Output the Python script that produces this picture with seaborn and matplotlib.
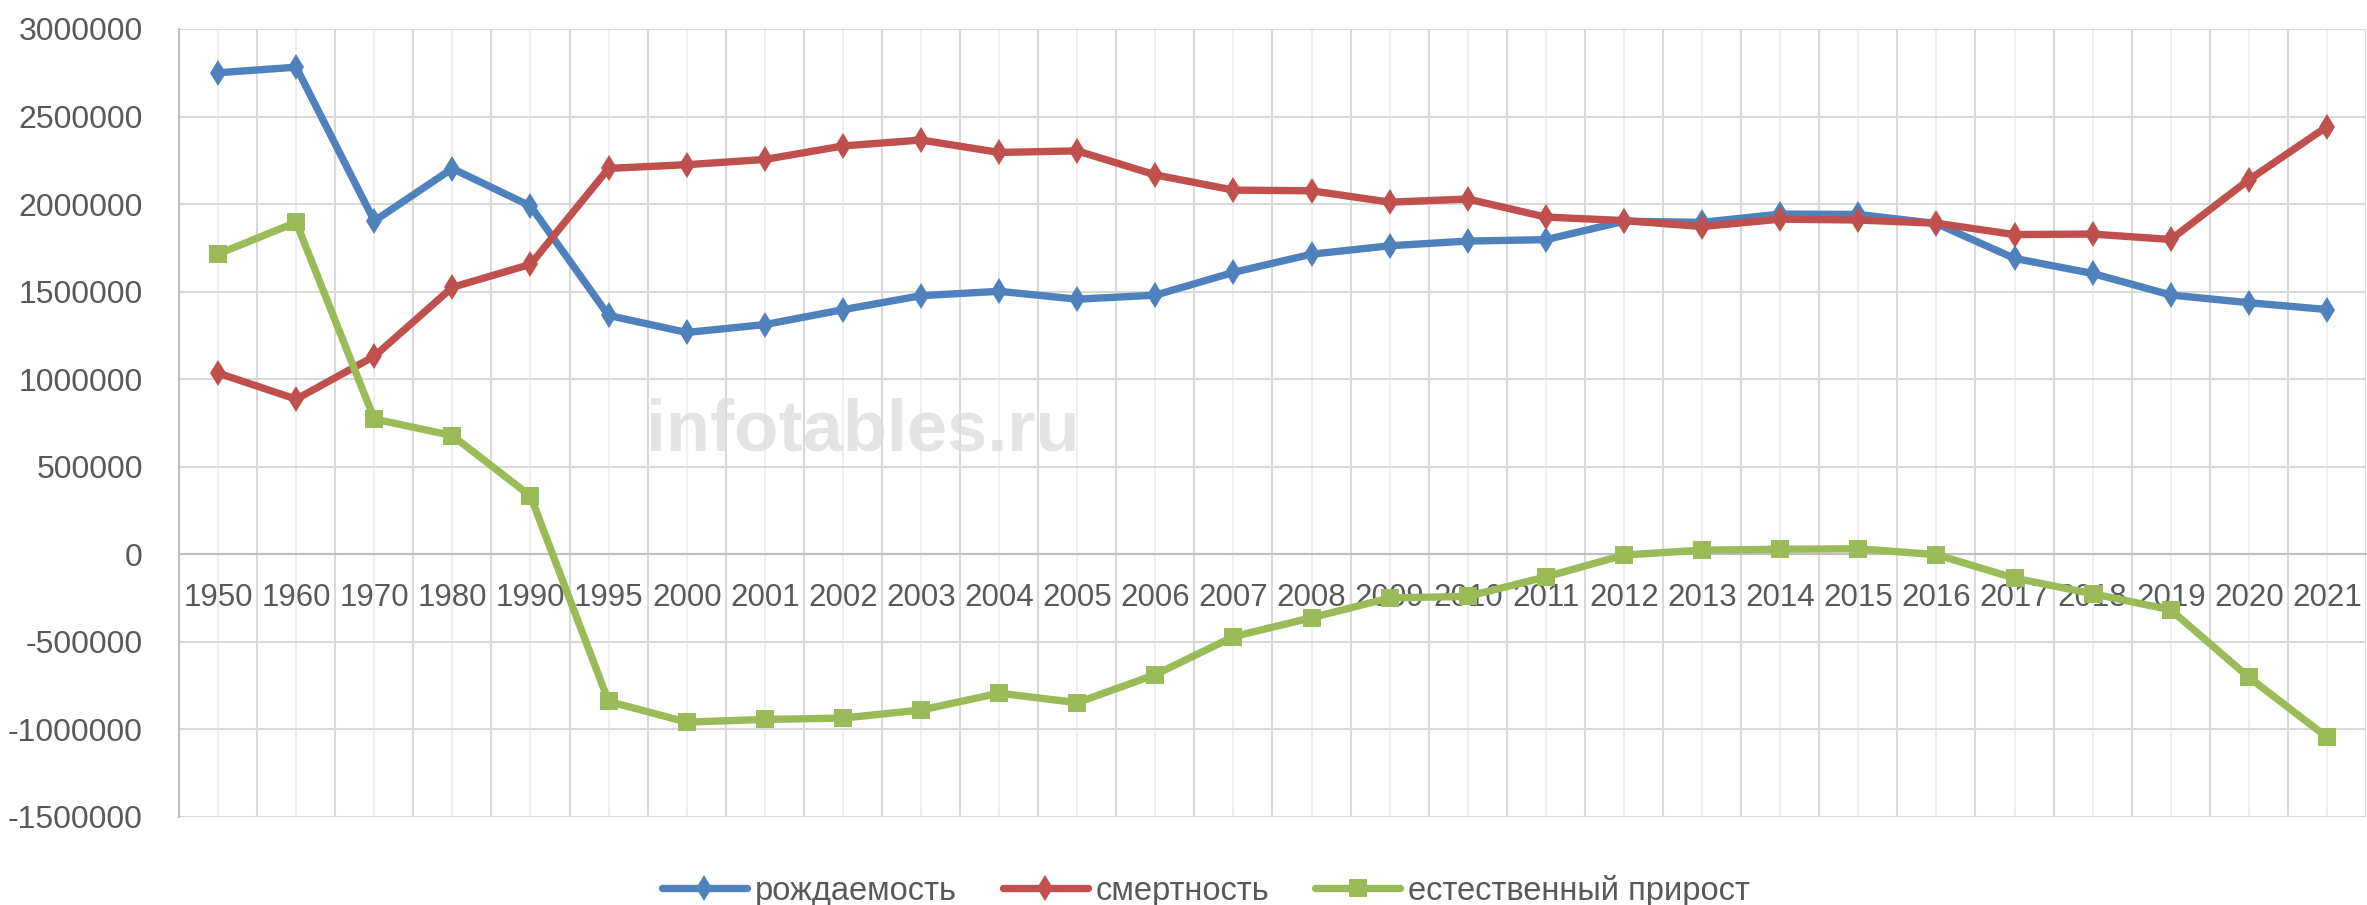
import numpy as np
import pandas as pd
import seaborn as sns
import matplotlib.pyplot as plt
from matplotlib.ticker import MultipleLocator, FuncFormatter

sns.set_theme(style="white")
plt.rcParams['font.family'] = ['Liberation Sans', 'DejaVu Sans']

# data
years = ['1950', '1960', '1970', '1980', '1990', '1995', '2000', '2001', '2002',
         '2003', '2004', '2005', '2006', '2007', '2008', '2009', '2010', '2011',
         '2012', '2013', '2014', '2015', '2016', '2017', '2018', '2019', '2020',
         '2021']
births = [2750000, 2782000, 1904000, 2203000, 1989000, 1364000, 1267000, 1312000,
          1397000, 1477000, 1502000, 1457000, 1480000, 1610000, 1714000, 1762000,
          1789000, 1797000, 1902000, 1896000, 1943000, 1941000, 1889000, 1690000,
          1604000, 1481000, 1437000, 1398000]
deaths = [1035000, 886000, 1131000, 1525000, 1656000, 2204000, 2225000, 2255000,
          2332000, 2366000, 2295000, 2304000, 2167000, 2080000, 2076000, 2011000,
          2029000, 1926000, 1906000, 1872000, 1914000, 1909000, 1891000, 1826000,
          1829000, 1798000, 2139000, 2442000]
increase = [b - d for b, d in zip(births, deaths)]

labels = ['рождаемость', 'смертность', 'естественный прирост']
colors = ['#4F81BD', '#C0504D', '#9BBB59']
markers = ['d', 'd', 's']
msizes = [13, 13, 13.5]
LW = 5.3
FS = 23

fig = plt.figure(figsize=(23.67, 9.05), dpi=100)
ax = fig.add_axes([179 / 2367, 1 - 817 / 905, 2187 / 2367, 788 / 905])

for vals, lab, col, mk, ms in zip([births, deaths, increase], labels, colors,
                                  markers, msizes):
    df = pd.DataFrame({'year': years, 'value': vals})
    sns.lineplot(data=df, x='year', y='value', ax=ax, sort=False, color=col,
                 linewidth=LW, marker=mk, markersize=ms, markeredgewidth=0,
                 label=lab, zorder=3)

# axes styling, excel-like
ax.set_xlim(-0.5, len(years) - 0.5)
ax.set_ylim(-1500000, 3000000)
ax.yaxis.set_major_locator(MultipleLocator(500000))
ax.yaxis.set_major_formatter(FuncFormatter(lambda v, p: f'{int(v)}'))
ax.set_xticks(range(len(years)))
ax.set_xticklabels(years)
ax.xaxis.set_minor_locator(MultipleLocator(1, offset=0.5))
ax.set_xlabel('')
ax.set_ylabel('')

ax.set_axisbelow(True)
ax.grid(axis='y', which='major', color='#D9D9D9', linewidth=1.5)
ax.grid(axis='x', which='major', color='#EFEFEF', linewidth=1.5)
ax.grid(axis='x', which='minor', color='#D9D9D9', linewidth=1.5)

for side in ['top', 'right']:
    ax.spines[side].set_visible(False)
ax.spines['bottom'].set_position(('data', 0))
ax.spines['bottom'].set_color('#BFBFBF')
ax.spines['bottom'].set_linewidth(1.5)
ax.spines['left'].set_color('#BFBFBF')
ax.spines['left'].set_linewidth(1.5)

ax.tick_params(axis='x', which='both', length=0, pad=21, labelsize=FS - 0.5,
               labelcolor='#595959')
ax.tick_params(axis='y', which='both', length=0, pad=26, labelsize=FS,
               labelcolor='#595959')

# watermark
ax.text(0.2135, 0.4645, 'infotables.ru', transform=ax.transAxes,
        fontsize=52, fontweight='bold', color='#DCDCDC', alpha=0.75,
        ha='left', va='baseline', zorder=1)

# legend at bottom
handles, labs = ax.get_legend_handles_labels()
ax.get_legend().remove()
fig.legend(handles, labs, loc='center', bbox_to_anchor=(1206 / 2367, 0.016),
           ncol=3, frameon=False, fontsize=FS + 0.5, labelcolor='#595959',
           handlelength=2.6, handletextpad=0.25, columnspacing=1.4,
           borderaxespad=0, borderpad=0)

fig.savefig('out.png', dpi=100)
